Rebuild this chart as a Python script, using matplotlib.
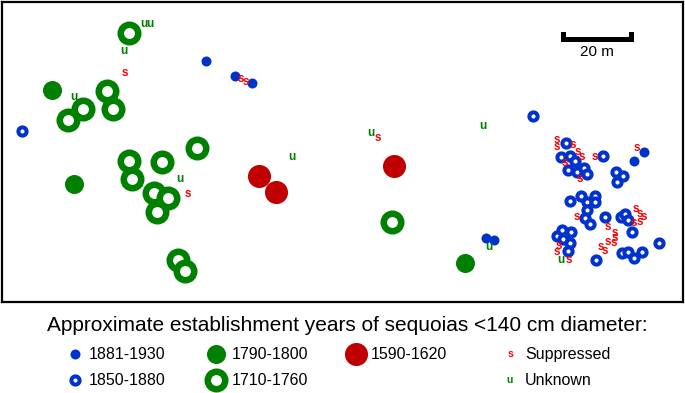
import matplotlib.pyplot as plt

plt.rcParams['font.family'] = ['Liberation Sans', 'DejaVu Sans']

ring_1710_x = [129, 107, 113, 83, 68, 197, 129, 132, 162, 154, 168, 157, 178, 185, 392]
ring_1710_y = [33, 91, 109, 109, 120, 148, 161, 179, 162, 193, 198, 212, 260, 271, 222]

fill_1790_x = [52, 74, 465]
fill_1790_y = [90, 184, 263]

fill_1590_x = [259, 276, 394]
fill_1590_y = [176, 192, 166]

ring_1850_x = [22, 533,
               566, 561, 570, 575, 568, 577, 584, 587, 603, 616, 623, 617,
               581, 595, 570, 587, 595, 587, 585, 590, 605, 621, 625, 628,
               632, 557, 562, 571, 563, 570, 568, 596, 622, 628, 634, 642, 659]
ring_1850_y = [131, 116,
               143, 157, 156, 161, 170, 172, 168, 174, 156, 172, 176, 182,
               196, 196, 201, 202, 202, 210, 218, 224, 217, 217, 214, 220,
               232, 236, 230, 232, 239, 243, 251, 260, 253, 252, 258, 252, 243]

fill_1881_x = [206, 235, 252, 486, 494, 644, 634]
fill_1881_y = [61, 76, 83, 238, 240, 152, 161]

supp_x = [125, 188, 241, 246, 378,
          557, 557, 573, 578, 582, 565, 580, 595, 637,
          577, 608, 636, 640, 644, 640, 634, 615, 615, 614, 608, 601, 605,
          559, 557, 569]
supp_y = [73, 194, 79, 82, 138,
          140, 147, 145, 152, 157, 163, 179, 157, 148,
          217, 227, 209, 214, 217, 222, 223, 233, 238, 243, 242, 247, 251,
          246, 252, 260]

unk_x = [144, 150, 124, 74, 180, 292, 371, 483, 489, 561]
unk_y = [24, 24, 51, 97, 179, 157, 133, 126, 247, 260]

units_per_m = 3.4
scale_len_m = 20

title = 'Approximate establishment years of sequoias <140 cm diameter:'
legend_labels = ['1881-1930', '1850-1880', '1790-1800', '1710-1760',
                 '1590-1620', 'Suppressed', 'Unknown']

blue = '#0033cc'
green = '#008000'
red = '#c00000'
sred = '#ff0000'

W, H = 685, 393
fig = plt.figure(figsize=(W / 100, H / 100), dpi=100)
ax = fig.add_axes([2 / W, (H - 302) / H, 681 / W, 300 / H])
ax.set_xlim(2, 683)
ax.set_ylim(302, 2)
ax.set_xticks([])
ax.set_yticks([])
for sp in ax.spines.values():
    sp.set_linewidth(1.6)


def ring(a, x, y, big):
    if big:
        a.scatter(x, y, s=12.6 ** 2, facecolors='white', edgecolors=green,
                  linewidths=4.7, zorder=2)
    else:
        a.scatter(x, y, s=5.9 ** 2, facecolors='white', edgecolors=blue,
                  linewidths=2.9, zorder=4)


def dot(a, x, y, kind):
    if kind == 'green':
        a.scatter(x, y, s=13.7 ** 2, color=green, linewidths=0, zorder=3)
    elif kind == 'red':
        a.scatter(x, y, s=16.6 ** 2, color=red, linewidths=0, zorder=3)
    else:
        a.scatter(x, y, s=7.2 ** 2, color=blue, linewidths=0, zorder=5)


ring(ax, ring_1710_x, ring_1710_y, True)
dot(ax, fill_1790_x, fill_1790_y, 'green')
dot(ax, fill_1590_x, fill_1590_y, 'red')
ring(ax, ring_1850_x, ring_1850_y, False)
dot(ax, fill_1881_x, fill_1881_y, 'blue')

for x, y in zip(supp_x, supp_y):
    ax.text(x, y, 's', color=sred, fontsize=8.5, fontweight='bold',
            ha='center', va='center', zorder=6)
for x, y in zip(unk_x, unk_y):
    ax.text(x, y, 'u', color=green, fontsize=8.5, fontweight='bold',
            ha='center', va='center', zorder=6)

# scale bar
x0 = 563
x1 = x0 + scale_len_m * units_per_m
ax.plot([x0, x0, x1, x1], [34, 39, 39, 34], color='black', lw=3.6,
        solid_joinstyle='miter', zorder=7)
ax.text((x0 + x1) / 2, 45, f'{scale_len_m} m', fontsize=11, ha='center',
        va='top', zorder=7)

# legend
lax = fig.add_axes([0, 0, 1, (H - 304) / H])
lax.set_xlim(0, W)
lax.set_ylim(H, 304)
lax.axis('off')
lax.text(W / 2 + 5, 325, title, fontsize=15, ha='center', va='center')

r1, r2 = 354, 380
dot(lax, [75], [r1], 'blue')
ring(lax, [75], [r2], False)
dot(lax, [216], [r1], 'green')
ring(lax, [216], [r2], True)
dot(lax, [356], [r1], 'red')
lax.text(510, r1, 's', color=sred, fontsize=7.5, fontweight='bold',
         ha='center', va='center')
lax.text(510, r2, 'u', color=green, fontsize=7.5, fontweight='bold',
         ha='center', va='center')

label_pos = [(89, r1), (89, r2), (232, r1), (232, r2), (371, r1),
             (525, r1), (525, r2)]
for (x, y), lab in zip(label_pos, legend_labels):
    lax.text(x, y, lab, fontsize=11.5, ha='left', va='center')

fig.savefig('out.png', dpi=100)
